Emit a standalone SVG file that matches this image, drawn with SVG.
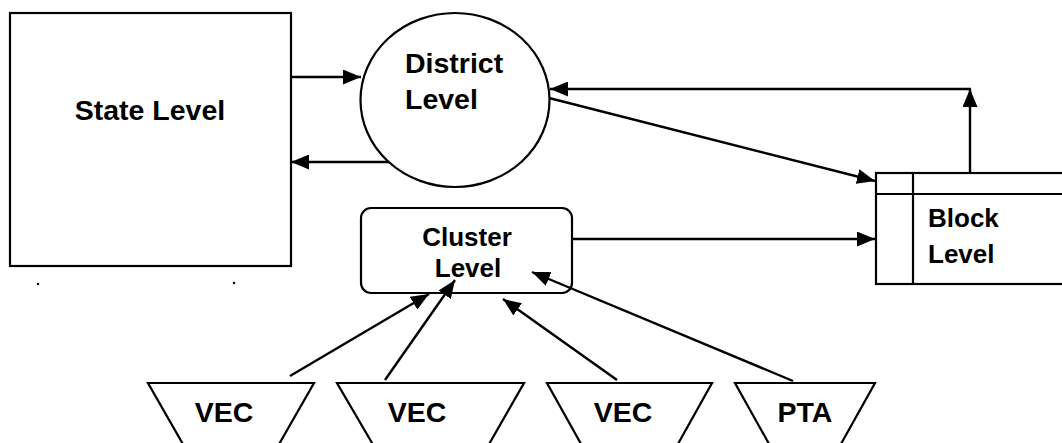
<svg xmlns="http://www.w3.org/2000/svg" width="1062" height="443" viewBox="0 0 1062 443">
<defs>
<style>
.shape{fill:#fff;stroke:#000;stroke-width:2.2}
.ln{fill:none;stroke:#000;stroke-width:2.4;marker-end:url(#ah)}
.t{font-family:"Liberation Sans",Arial,sans-serif;font-weight:bold;fill:#000}
.big{font-size:28.5px}
.mid{font-size:26px}
</style>
<marker id="ah" markerUnits="userSpaceOnUse" markerWidth="19" markerHeight="15" refX="18" refY="7.5" orient="auto">
<path d="M0,0 L18,7.5 L0,15 z" fill="#000"/>
</marker>
</defs>
<rect width="1062" height="443" fill="#fff"/>
<g id="state">
<rect class="shape" x="10" y="13" width="281" height="253"/>
<text class="t big" x="150" y="120" text-anchor="middle">State Level</text>
</g>
<g id="district">
<ellipse class="shape" cx="455" cy="100" rx="94.5" ry="87"/>
<text class="t big" x="405" y="73">District</text>
<text class="t big" x="405" y="109">Level</text>
</g>
<g id="cluster">
<rect class="shape" x="361" y="208" width="211" height="85" rx="10"/>
<text class="t mid" x="467" y="246" text-anchor="middle">Cluster</text>
<text class="t mid" x="468" y="277" text-anchor="middle">Level</text>
</g>
<g id="block">
<rect class="shape" x="876" y="173" width="200" height="111"/>
<line x1="876" y1="194" x2="1076" y2="194" stroke="#000" stroke-width="2.2"/>
<line x1="913" y1="173" x2="913" y2="284" stroke="#000" stroke-width="2.2"/>
<text class="t mid" x="928" y="227">Block</text>
<text class="t mid" x="928" y="263">Level</text>
</g>
<g id="vec1">
<polygon class="shape" points="148,383 314,383 270,460 192,460"/>
<text class="t big" x="224" y="422" text-anchor="middle">VEC</text>
</g>
<g id="vec2">
<polygon class="shape" points="337,383 524,383 480,460 382,460"/>
<text class="t big" x="417" y="422" text-anchor="middle">VEC</text>
</g>
<g id="vec3">
<polygon class="shape" points="547,383 712,383 669,460 590,460"/>
<text class="t big" x="623" y="422" text-anchor="middle">VEC</text>
</g>
<g id="pta">
<polygon class="shape" points="735,383 875,383 832,460 778,460"/>
<text class="t big" x="805" y="422" text-anchor="middle">PTA</text>
</g>
<g id="connectors">
<line class="ln" x1="291" y1="77" x2="361" y2="77"/>
<line class="ln" x1="389" y1="162" x2="291" y2="162"/>
<line class="ln" x1="970" y1="173" x2="970" y2="89"/>
<line class="ln" x1="971" y1="89" x2="550" y2="89"/>
<line class="ln" x1="549" y1="98" x2="875" y2="181"/>
<line class="ln" x1="572" y1="239" x2="875" y2="239"/>
<line class="ln" x1="290" y1="376" x2="429" y2="294"/>
<line class="ln" x1="385" y1="380" x2="455" y2="280"/>
<line class="ln" x1="617" y1="380" x2="503" y2="299"/>
<line class="ln" x1="793" y1="381" x2="532" y2="272"/>
</g>
<circle cx="38" cy="284" r="1.2" fill="#000"/>
<circle cx="234" cy="283" r="1.2" fill="#000"/>
</svg>
